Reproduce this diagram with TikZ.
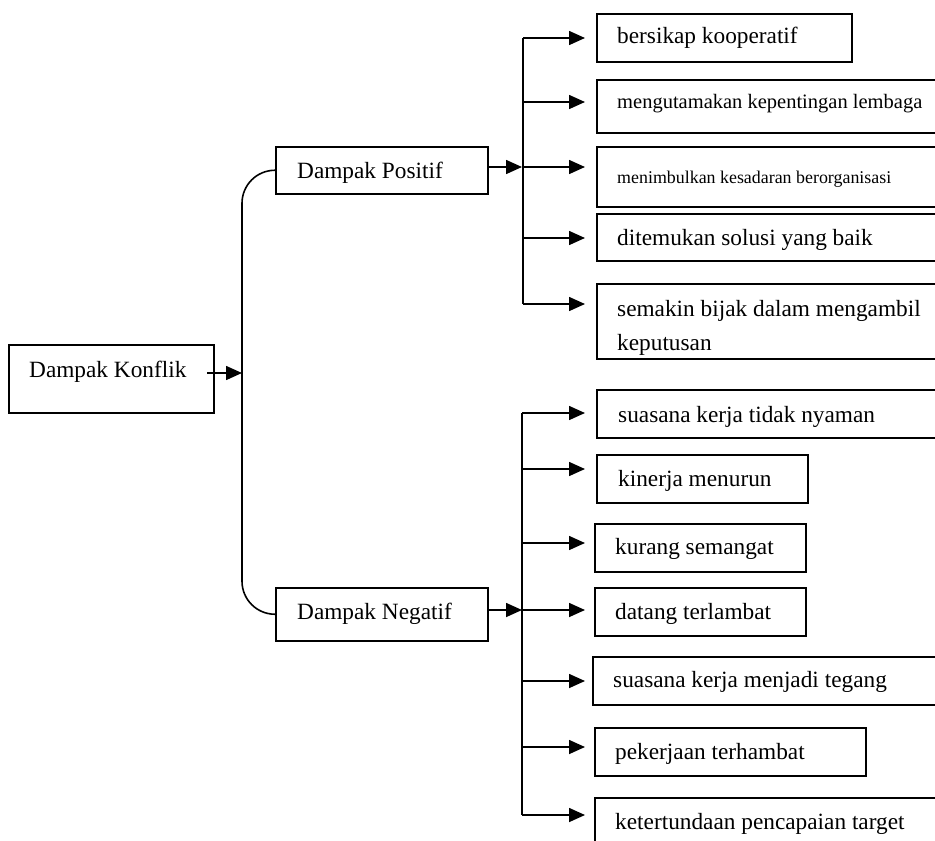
\documentclass[tikz,border=0pt]{standalone}
\usepackage{fontspec}
\setmainfont{Liberation Serif}
\usetikzlibrary{arrows.meta}
\tikzset{
  box/.style={draw, line width=1.5pt, rectangle, inner sep=0pt, anchor=north west},
  txt/.style={anchor=base west, inner sep=0pt, font=\fontsize{23.3}{34}\selectfont},
  txtm/.style={anchor=base west, inner sep=0pt, font=\fontsize{20.5}{28}\selectfont},
  txts/.style={anchor=base west, inner sep=0pt, font=\fontsize{17.9}{24}\selectfont},
  link/.style={line width=1.6pt},
  arr/.style={line width=1.6pt, -{Triangle[length=16pt,width=14pt]}}
}
\begin{document}
\begin{tikzpicture}[x=1pt,y=-1pt]
\useasboundingbox (0,0) rectangle (935,841);
\clip (0,0) rectangle (935,841);
% boxes
\node[box, minimum width=205pt, minimum height=68pt] (root) at (8,344) {};
\node[box, minimum width=212pt, minimum height=47pt] (DP) at (275,146) {};
\node[box, minimum width=212pt, minimum height=53pt] (DN) at (275,587) {};
\node[box, minimum width=255pt, minimum height=48pt] (p1) at (596,13) {};
\node[box, minimum width=349pt, minimum height=53pt] (p2) at (596,79) {};
\node[box, minimum width=349pt, minimum height=60pt] (p3) at (596,146) {};
\node[box, minimum width=349pt, minimum height=47pt] (p4) at (596,213) {};
\node[box, minimum width=349pt, minimum height=75pt] (p5) at (596,283) {};
\node[box, minimum width=349pt, minimum height=48pt] (n1) at (596,389) {};
\node[box, minimum width=211pt, minimum height=48pt] (n2) at (596,454) {};
\node[box, minimum width=211pt, minimum height=48pt] (n3) at (594,523) {};
\node[box, minimum width=211pt, minimum height=48pt] (n4) at (594,587) {};
\node[box, minimum width=353pt, minimum height=48pt] (n5) at (592,656) {};
\node[box, minimum width=271pt, minimum height=48pt] (n6) at (594,727) {};
\node[box, minimum width=351pt, minimum height=60pt] (n7) at (594,797) {};
% texts
\node[txt] (troot) at (29,377) {Dampak Konflik};
\node[txt] (tDP) at (297,178) {Dampak Positif};
\node[txt] (tDN) at (297,619) {Dampak Negatif};
\node[txt] (tp1) at (617,43) {bersikap kooperatif};
\node[txtm] (tp2) at (617,108) {mengutamakan kepentingan lembaga};
\node[txts] (tp3) at (617,183) {menimbulkan kesadaran berorganisasi};
\node[txt] (tp4) at (617,245) {ditemukan solusi yang baik};
\node[txt, align=left] (tp5) at (617,350) {semakin bijak dalam mengambil\\keputusan};
\node[txt] (tn1) at (618,422) {suasana kerja tidak nyaman};
\node[txt] (tn2) at (618,486) {kinerja menurun};
\node[txt] (tn3) at (615,554) {kurang semangat};
\node[txt] (tn4) at (615,619) {datang terlambat};
\node[txt] (tn5) at (613,687) {suasana kerja menjadi tegang};
\node[txt] (tn6) at (615,759) {pekerjaan terhambat};
\node[txt] (tn7) at (615,829) {ketertundaan pencapaian target};
% coordinates
\coordinate (rs) at (207,373);
\coordinate (rt) at (242,373);
\coordinate (dpt) at (522,167);
\coordinate (dnt) at (522,610);
\foreach \i/\y in {1/38,2/102,3/167,4/238,5/304}{
  \coordinate (pb\i) at (523,\y);
  \coordinate (pa\i) at (585,\y);
}
\foreach \i/\y in {1/413,2/469,3/543,4/610,5/681,6/747,7/815}{
  \coordinate (nb\i) at (522,\y);
  \coordinate (na\i) at (585,\y);
}
% connectors
\draw[arr] (rs) -- (rt);
\draw[link, rounded corners=33pt] (DP.west) -| (rt) |- (DN.west);
\draw[arr] (DP.east |- dpt) -- (dpt);
\draw[arr] (DN.east |- dnt) -- (dnt);
\draw[link] (pb1) -- (pb5);
\draw[link] (nb1) -- (nb7);
\foreach \i in {1,...,5}{ \draw[arr] (pb\i) -- (pa\i); }
\foreach \i in {1,...,7}{ \draw[arr] (nb\i) -- (na\i); }
\end{tikzpicture}
\end{document}
